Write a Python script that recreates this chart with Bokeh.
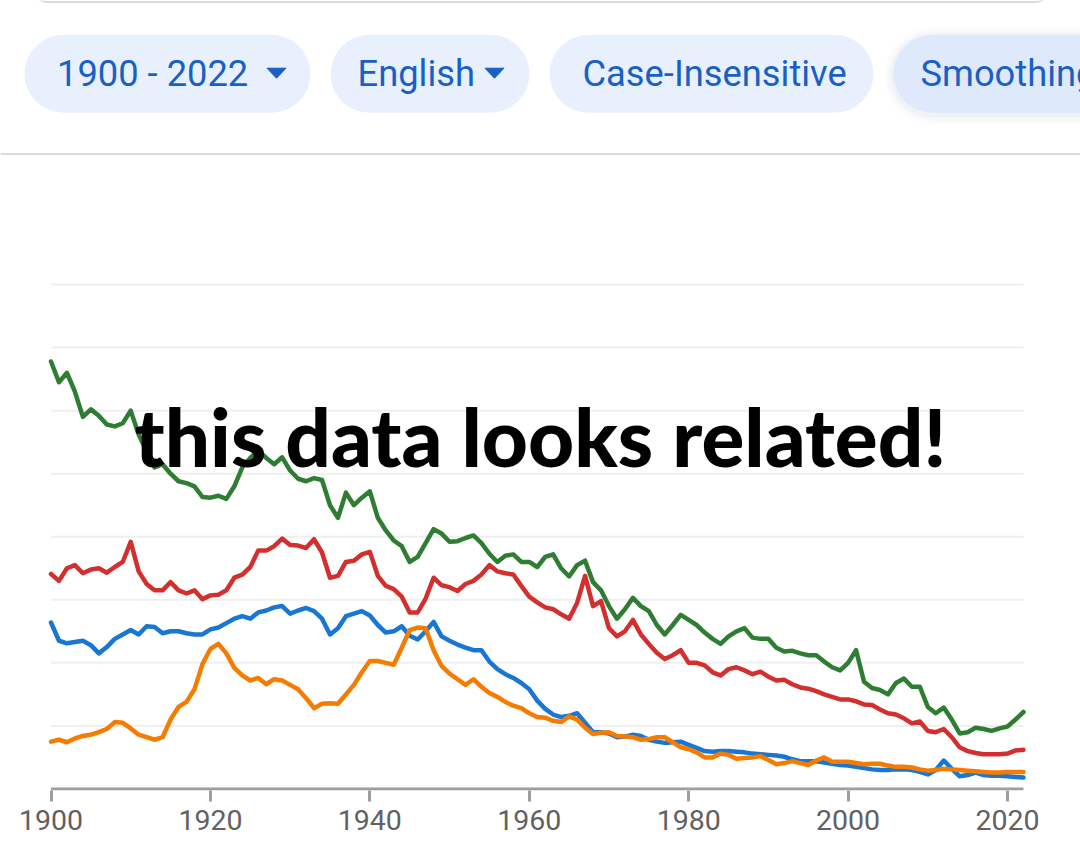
from bokeh.plotting import figure
from bokeh.models import Range1d, FixedTicker, Label
from bokeh.layouts import column
from bokeh.core.properties import value
from bokeh.embed import file_html
from bokeh.resources import INLINE

# ---------------- data ----------------
years = list(range(1900, 2023))
x_ticks = [1900, 1920, 1940, 1960, 1980, 2000, 2020]
grid_levels = [1, 2, 3, 4, 5, 6, 7, 8]

green = [6.78, 6.45, 6.60, 6.30, 5.90, 6.02, 5.92, 5.78, 5.75, 5.80,
         6.00, 5.62, 5.35, 5.10, 5.15, 5.00, 4.88, 4.85, 4.80, 4.63,
         4.62, 4.65, 4.60, 4.80, 5.10, 5.25, 5.37, 5.25, 5.15, 5.26,
         5.05, 4.92, 4.88, 4.93, 4.90, 4.50, 4.30, 4.70, 4.50, 4.62,
         4.72, 4.30, 4.10, 3.94, 3.85, 3.60, 3.68, 3.90, 4.12, 4.05,
         3.92, 3.93, 3.98, 4.02, 3.90, 3.73, 3.60, 3.70, 3.72, 3.60,
         3.60, 3.52, 3.68, 3.72, 3.50, 3.37, 3.55, 3.62, 3.28, 3.15,
         2.90, 2.70, 2.85, 3.03, 2.90, 2.82, 2.60, 2.45, 2.60, 2.76,
         2.68, 2.60, 2.48, 2.38, 2.30, 2.42, 2.50, 2.55, 2.40, 2.38,
         2.38, 2.24, 2.18, 2.19, 2.15, 2.12, 2.12, 2.02, 1.93, 1.88,
         2.00, 2.20, 1.70, 1.60, 1.57, 1.50, 1.68, 1.75, 1.62, 1.62,
         1.30, 1.20, 1.29, 1.10, 0.88, 0.90, 0.97, 0.95, 0.92, 0.96,
         0.99, 1.10, 1.22]

red = [3.41, 3.30, 3.50, 3.55, 3.42, 3.48, 3.50, 3.43, 3.52, 3.60,
       3.92, 3.45, 3.25, 3.15, 3.15, 3.28, 3.15, 3.10, 3.15, 3.01,
       3.07, 3.08, 3.15, 3.35, 3.40, 3.52, 3.78, 3.78, 3.85, 3.97,
       3.87, 3.86, 3.82, 3.96, 3.75, 3.35, 3.38, 3.60, 3.62, 3.72,
       3.76, 3.38, 3.22, 3.17, 3.05, 2.80, 2.80, 3.02, 3.35, 3.23,
       3.20, 3.14, 3.25, 3.30, 3.40, 3.55, 3.45, 3.42, 3.40, 3.22,
       3.05, 2.96, 2.88, 2.85, 2.77, 2.70, 2.95, 3.38, 2.90, 2.98,
       2.55, 2.42, 2.50, 2.68, 2.45, 2.30, 2.16, 2.06, 2.12, 2.20,
       2.00, 2.00, 1.96, 1.85, 1.80, 1.90, 1.93, 1.88, 1.82, 1.86,
       1.78, 1.72, 1.73, 1.66, 1.61, 1.59, 1.55, 1.50, 1.46, 1.42,
       1.42, 1.39, 1.34, 1.33, 1.26, 1.20, 1.18, 1.12, 1.04, 1.07,
       0.92, 0.90, 0.95, 0.82, 0.66, 0.60, 0.57, 0.55, 0.55, 0.55,
       0.56, 0.61, 0.62]

blue = [2.64, 2.35, 2.31, 2.33, 2.35, 2.28, 2.15, 2.25, 2.38, 2.45,
        2.52, 2.45, 2.58, 2.57, 2.47, 2.50, 2.50, 2.47, 2.45, 2.45,
        2.53, 2.56, 2.63, 2.70, 2.74, 2.70, 2.80, 2.83, 2.88, 2.90,
        2.78, 2.83, 2.87, 2.82, 2.70, 2.45, 2.55, 2.74, 2.78, 2.82,
        2.75, 2.60, 2.48, 2.50, 2.58, 2.43, 2.37, 2.50, 2.65, 2.42,
        2.35, 2.29, 2.24, 2.20, 2.20, 2.02, 1.90, 1.82, 1.76, 1.68,
        1.58, 1.40, 1.27, 1.18, 1.14, 1.16, 1.20, 1.05, 0.90, 0.90,
        0.88, 0.82, 0.83, 0.86, 0.84, 0.78, 0.75, 0.73, 0.74, 0.75,
        0.70, 0.65, 0.60, 0.59, 0.60, 0.60, 0.59, 0.58, 0.56, 0.55,
        0.54, 0.53, 0.51, 0.47, 0.44, 0.44, 0.44, 0.42, 0.40, 0.38,
        0.37, 0.35, 0.33, 0.31, 0.30, 0.30, 0.31, 0.31, 0.30, 0.27,
        0.23, 0.30, 0.45, 0.32, 0.20, 0.22, 0.26, 0.22, 0.21, 0.21,
        0.20, 0.19, 0.18]

orange = [0.75, 0.78, 0.74, 0.80, 0.84, 0.86, 0.90, 0.95, 1.06, 1.05,
          0.96, 0.86, 0.82, 0.78, 0.82, 1.10, 1.30, 1.38, 1.58, 1.98,
          2.22, 2.30, 2.15, 1.92, 1.80, 1.72, 1.76, 1.66, 1.74, 1.72,
          1.65, 1.58, 1.44, 1.28, 1.35, 1.36, 1.35, 1.50, 1.65, 1.85,
          2.03, 2.03, 2.00, 1.97, 2.24, 2.52, 2.56, 2.55, 2.20, 1.95,
          1.83, 1.74, 1.65, 1.74, 1.62, 1.52, 1.46, 1.38, 1.32, 1.28,
          1.20, 1.14, 1.13, 1.08, 1.06, 1.15, 1.10, 0.97, 0.87, 0.89,
          0.90, 0.84, 0.83, 0.82, 0.78, 0.79, 0.82, 0.82, 0.74, 0.66,
          0.63, 0.58, 0.50, 0.50, 0.56, 0.54, 0.48, 0.49, 0.50, 0.52,
          0.46, 0.39, 0.41, 0.44, 0.41, 0.38, 0.45, 0.50, 0.43, 0.43,
          0.43, 0.41, 0.39, 0.40, 0.40, 0.37, 0.35, 0.35, 0.34, 0.31,
          0.29, 0.30, 0.32, 0.31, 0.30, 0.29, 0.28, 0.27, 0.26, 0.26,
          0.27, 0.27, 0.27]

chip_labels = ["1900 - 2022", "English", "Case-Insensitive", "Smoothing"]
overlay_text = "this data looks related!"

# ---------------- styles / layout ----------------
W = 1080
HEAD_H = 170
CHART_H = 693
CHIP_FILL = "#e8f0fd"
CHIP_FILL_ACTIVE = "#dfe9fc"
CHIP_TEXT = "#1a5fc4"

# ---------------- header (filter chips) ----------------
head = figure(width=W, height=HEAD_H, output_backend="svg", toolbar_location=None,
              x_range=Range1d(0, W), y_range=Range1d(HEAD_H, 0),
              min_border=0, x_axis_location=None, y_axis_location=None)
head.grid.visible = False
head.outline_line_color = None
head.background_fill_color = "white"
head.border_fill_color = "white"

# bottom edge of the search box above the chips
head.quad(left=[33], right=[1049], top=[-40], bottom=[1.5], fill_color=None,
          line_color="#dadada", line_width=2, border_radius=14)

chip_left = [24, 330, 549, 893]
chip_right = [310, 529, 873, 1130]
chip_top, chip_bottom = 34.3, 112.3
text_x = [56.5, 357, 582, 920]
text_mid = 72.5

# soft shadow behind the active (last) chip
for grow, alpha in [(9, 0.025), (6, 0.035), (3, 0.05)]:
    head.quad(left=[chip_left[3] - grow], right=[chip_right[3] + grow],
              top=[chip_top - grow + 2], bottom=[chip_bottom + grow + 2],
              fill_color="#7a8fb5", fill_alpha=alpha, line_color=None,
              border_radius=39 + grow)

head.quad(left=chip_left[:3], right=chip_right[:3], top=[chip_top] * 3,
          bottom=[chip_bottom] * 3, fill_color=CHIP_FILL, line_color=None,
          border_radius=39)
head.quad(left=[chip_left[3]], right=[chip_right[3]], top=[chip_top],
          bottom=[chip_bottom], fill_color=CHIP_FILL_ACTIVE, line_color=None,
          border_radius=39)

head.text(x=text_x, y=[text_mid] * 4, text=chip_labels,
          text_font=value("Roboto"), text_font_size="36.3px",
          text_color=CHIP_TEXT, text_baseline="alphabetic", text_align="left")

# dropdown carets
caret_cx = [276, 494]
head.patches(xs=[[c - 9.5, c + 9.5, c] for c in caret_cx],
             ys=[[67.7, 67.7, 77.7] for _ in caret_cx],
             fill_color=CHIP_TEXT, line_color=CHIP_TEXT, line_width=1)

# divider
head.segment(x0=[0], x1=[W], y0=[153.5], y1=[153.5], line_color="#dadada",
             line_width=2)

# ---------------- chart ----------------
PX_PER_YEAR = 7.971
X0_PX = 50.5
x_start = years[0] - X0_PX / PX_PER_YEAR
x_end = years[0] + (W - X0_PX) / PX_PER_YEAR

p = figure(width=W, height=CHART_H, output_backend="svg", toolbar_location=None,
           x_range=Range1d(x_start, x_end), y_range=Range1d(-0.025, 9),
           y_axis_location=None, min_border_left=0, min_border_right=0,
           min_border_top=51, min_border_bottom=73)
p.outline_line_color = None
p.background_fill_color = "white"
p.border_fill_color = "white"
p.grid.visible = False

# horizontal gridlines spanning the data period
p.segment(x0=[years[0]] * len(grid_levels), x1=[years[-1]] * len(grid_levels),
          y0=grid_levels, y1=grid_levels, line_color="#efefef", line_width=2)

ax = p.xaxis[0]
ax.ticker = FixedTicker(ticks=x_ticks)
ax.axis_line_color = None
ax.major_tick_line_color = "#9e9e9e"
ax.major_tick_line_width = 3
ax.major_tick_out = 11
ax.major_tick_in = 0
ax.minor_tick_out = 0
ax.minor_tick_in = 0
ax.major_label_text_font = "Roboto"
ax.major_label_text_font_size = "28.5px"
ax.major_label_text_color = "#616161"
ax.major_label_standoff = 8

# baseline (axis line) over the data period
p.segment(x0=[years[0]], x1=[years[-1]], y0=[0], y1=[0],
          line_color="#9e9e9e", line_width=3)

series = [(green, "#2e7d32"), (red, "#d32f2f"), (blue, "#1976d2"), (orange, "#f57c00")]
for vals, col in series:
    p.line(years, vals, line_color=col, line_width=4.5, line_join="round",
           line_cap="round")

p.add_layout(Label(x=1961.4, y=5.60, text=overlay_text, text_font="Lato Black, Lato",
                   text_font_style="bold", text_font_size="80px",
                   text_color="black", text_align="center",
                   text_baseline="alphabetic"))

layout = column(head, p)
open("out.html", "w").write(file_html(layout, INLINE))
